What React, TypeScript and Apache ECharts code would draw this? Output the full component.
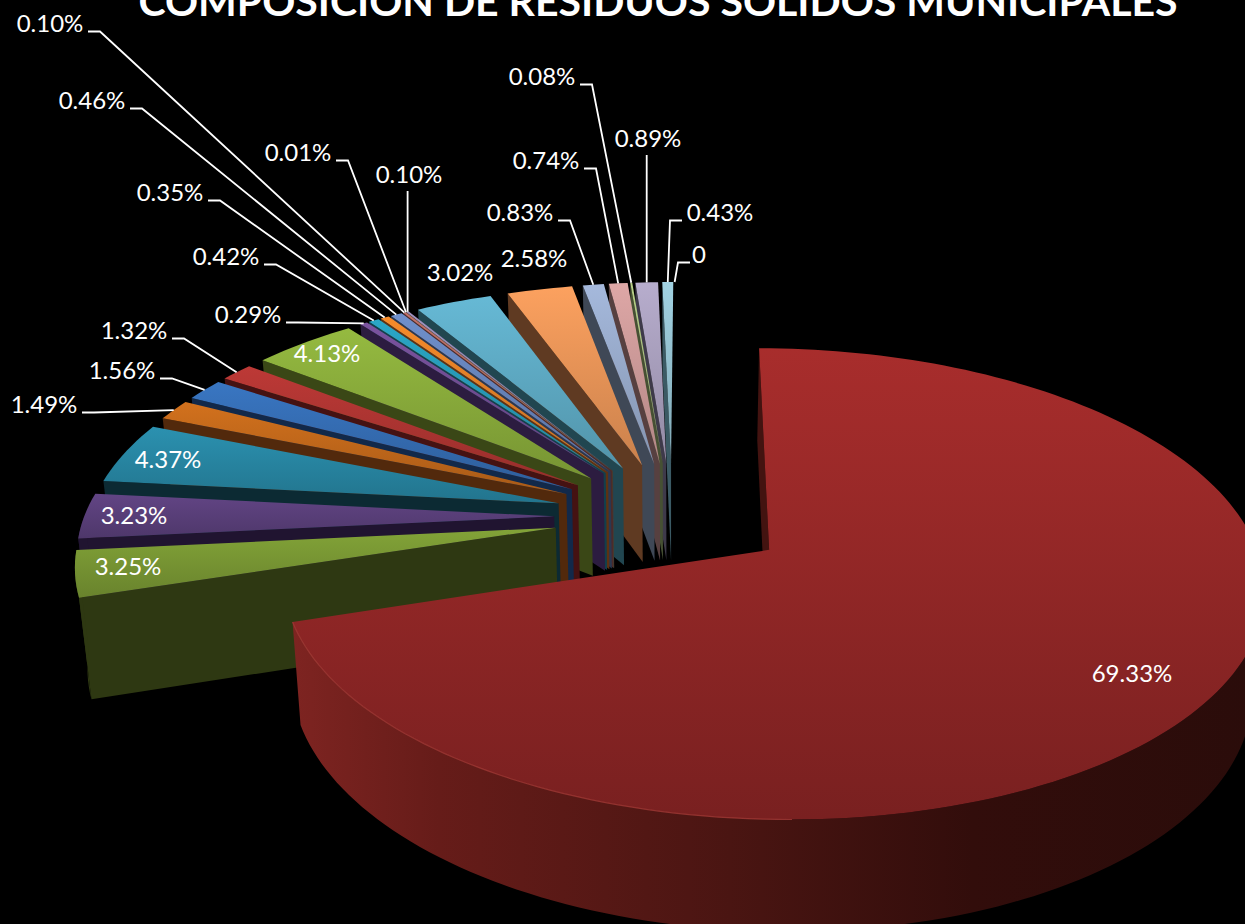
import React, { useEffect, useRef } from "react";
import * as echarts from "echarts";

const titleText = "COMPOSICIÓN DE RESIDUOS SÓLIDOS MUNICIPALES";
// clockwise from the top of the pie
const labels = ["69.33%","3.25%","3.23%","4.37%","1.49%","1.56%","1.32%","4.13%","0.29%","0.42%","0.35%","0.46%","0.10%","0.01%","0.10%","3.02%","2.58%","0.83%","0.74%","0.08%","0.89%","0.43%","0"];
const values = [69.33,3.25,3.23,4.37,1.49,1.56,1.32,4.13,0.29,0.42,0.35,0.46,0.10,0.01,0.10,3.02,2.58,0.83,0.74,0.08,0.89,0.43,0];
const topColors = ["#A82D2C","#83A438","#624585","#2B91B0","#D2711D","#3976C2","#BD3936","#95BA40","#7B539F","#2AA7C7","#F68B2A","#6F90CC","#C66F6C","#AFC36B","#A291C1","#66B9D5","#FCA15F","#A5B9DC","#DEA7A6","#B9D189","#B7ADCD","#A1D2E2","#F9C298"];
const wallColors = ["#7E2421","#2E3812","#201430","#0C2A33","#52290C","#12294A","#451212","#3A4716","#2C1C40","#123F4C","#5E3212","#2B3850","#4C2A2A","#434B28","#3C3649","#214650","#5F3A22","#3F4856","#574040","#465033","#3E3A4A","#3B5A64","#5F4A3A"];
// label text anchors: [x, y, side of the leader: 1 right, -1 left, 0 vertical, null none]
const labelSpots: [number, number, number | null][] = [
  [1132,674,null],[128,567,null],[134,516,null],[168,460,null],[44,405,1],[122,371,1],[134,331,1],[327,354,null],
  [248,315,1],[226,257,1],[170,193,1],[92,101,1],[50,24,1],[298,153,1],[409,175,0],[460,273,null],[534,259,null],
  [520,213,1],[546,161,1],[542,77,1],[648,139,0],[720,213,-1],[699,255,-1],
];

const CX = 672, CY = 516.5, R = 474, EXPLODE = 118, DEPTH = 3353, YAW = 0.04, TILT = 0.466, THICK = 99, SHRINK = 0.021, START = 0.3;
const total = values.reduce((a, b) => a + b, 0);
const rad = (d: number) => (d * Math.PI) / 180;
const spans = (() => {
  let a = START;
  return values.map((v) => {
    const s = a;
    a += (v / total) * 360;
    return [s, a];
  });
})();

function darken(hex: string, f: number) {
  const n = parseInt(hex.slice(1), 16);
  const c = [(n >> 16) & 255, (n >> 8) & 255, n & 255].map((v) => Math.round(v * f));
  return `rgb(${c[0]},${c[1]},${c[2]})`;
}
function project(X: number, Y: number, H: number): number[] {
  const s = DEPTH / (DEPTH + Y - YAW * X);
  const k = H > 0 ? 1 - SHRINK : 1;
  return [CX + X * s * k, CY - Y * s * TILT * k + H * s];
}
function apexOf(i: number) {
  const m = rad((spans[i][0] + spans[i][1]) / 2);
  return [EXPLODE * Math.sin(m), EXPLODE * Math.cos(m)];
}
function rim(i: number, deg: number, H: number) {
  const [ax, ay] = apexOf(i);
  return project(ax + R * Math.sin(rad(deg)), ay + R * Math.cos(rad(deg)), H);
}

function renderSlice(_: any, api: any) {
  const i = api.value(0);
  const [a0, a1] = spans[i];
  if (a1 - a0 < 1e-6) return { type: "group", children: [] };
  const [ax, ay] = apexOf(i);
  const steps = Math.max(2, Math.ceil((a1 - a0) / 1.5));
  const arcTop: number[][] = [];
  for (let k = 0; k <= steps; k++) arcTop.push(rim(i, a0 + ((a1 - a0) * k) / steps, 0));
  const children: any[] = [];
  const wall = wallColors[i];
  // radial wall on the start edge
  children.push({
    type: "polygon",
    shape: { points: [rim(i, a0, 0), project(ax, ay, 0), project(ax, ay, THICK), rim(i, a0, THICK)] },
    style: { fill: i === 0 ? "#431310" : wall },
  });
  // outer curved wall, only where it faces the viewer
  const front: number[] = [];
  for (let k = 0; k <= steps; k++) {
    const d = a0 + ((a1 - a0) * k) / steps;
    if (Math.cos(rad(d)) < 0.02) front.push(d);
  }
  if (front.length > 1) {
    const upper = front.map((d) => rim(i, d, 0));
    const lower = front.map((d) => rim(i, d, THICK)).reverse();
    children.push({
      type: "polygon",
      shape: { points: upper.concat(lower) },
      style: {
        fill:
          i === 0
            ? new echarts.graphic.LinearGradient(1, 0, 0, 0, [
                { offset: 0, color: "#2A0C0A" },
                { offset: 0.3, color: "#320D0B" },
                { offset: 0.55, color: "#4A1512" },
                { offset: 0.85, color: "#661C19" },
                { offset: 1, color: "#7E2421" },
              ])
            : wall,
      },
    });
  }
  // top face
  children.push({
    type: "polygon",
    shape: { points: [project(ax, ay, 0), ...arcTop] },
    style: {
      fill: new echarts.graphic.LinearGradient(0, 0, 0, 1, [
        { offset: 0, color: topColors[i] },
        { offset: 1, color: darken(topColors[i], i === 0 ? 0.72 : 0.8) },
      ]),
    },
  });
  if (i === 0) {
    children.push({
      type: "polyline",
      shape: { points: arcTop.filter((_p, k) => a0 + ((a1 - a0) * k) / steps > 178) },
      style: { stroke: "#A23A36", lineWidth: 1.2, fill: null, opacity: 0.8 },
    });
  }
  return { type: "group", children };
}

function renderLabel(_: any, api: any) {
  const i = api.value(0);
  const [x, y, side] = labelSpots[i];
  const children: any[] = [];
  if (side !== null) {
    const mid = (spans[i][0] + spans[i][1]) / 2;
    const end = rim(i, mid, 0);
    let pts: number[][];
    if (side === 0) pts = [[end[0], y + 16], end];
    else {
      const half = labels[i] === "0" ? 9 : 38;
      const ly = y + 7.5;
      pts = [[x + side * half, ly], [x + side * (half + 12), ly], end];
    }
    children.push({ type: "polyline", shape: { points: pts }, style: { stroke: "#FFFFFF", lineWidth: 1.8, fill: null } });
  }
  children.push({
    type: "text",
    style: { text: labels[i], x, y: y - 2, fill: "#FFFFFF", font: "24px Lato", align: "center", verticalAlign: "middle" },
  });
  return { type: "group", children };
}

export default function App() {
  const ref = useRef<HTMLDivElement>(null);
  useEffect(() => {
    document.body.style.margin = "0";
    document.body.style.background = "#000";
    const chart = echarts.init(ref.current!, undefined, { renderer: "svg" });
    // far slices first, the large front slice last
    const paintOrder = values.map((_, i) => i).sort((a, b) => (a === 0 ? 1 : b === 0 ? -1 : b - a));
    chart.setOption({
      animation: false,
      backgroundColor: "#000000",
      title: {
        text: titleText,
        left: 653,
        top: -25,
        textAlign: "center",
        textStyle: { color: "#FFFFFF", fontFamily: "Lato", fontWeight: "bold", fontSize: 41 },
      },
      series: [
        { type: "custom", coordinateSystem: "none", silent: true, clip: false, renderItem: renderSlice, data: paintOrder.map((i) => [i, values[i]]), z: 2 },
        { type: "custom", coordinateSystem: "none", silent: true, clip: false, renderItem: renderLabel, data: labels.map((_, i) => [i]), z: 3 },
      ],
    });
    return () => chart.dispose();
  }, []);
  return <div ref={ref} style={{ position: "absolute", left: 0, top: 0, width: 1245, height: 924 }} />;
}
